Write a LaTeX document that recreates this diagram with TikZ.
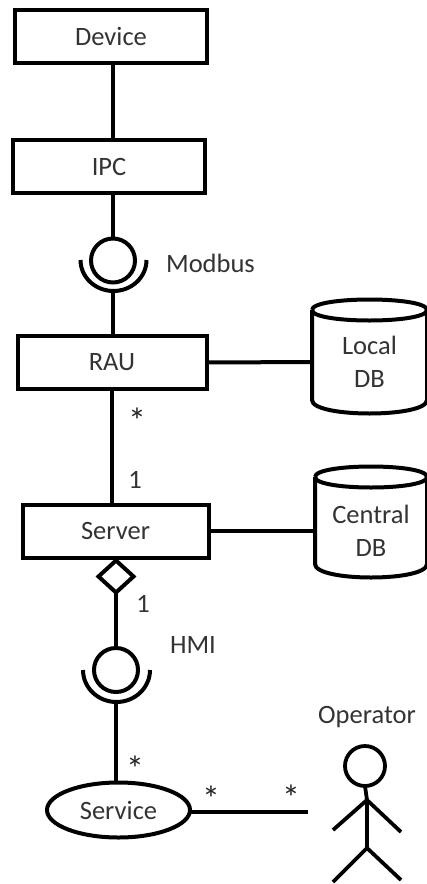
\documentclass[tikz,border=0pt]{standalone}
\usepackage{fontspec}
\setmainfont{Carlito}
\usetikzlibrary{shapes.geometric}
\tikzset{
  every node/.style={outer sep=0pt},
  lw/.style={line width=4pt},
  boxnode/.style={draw,lw,rectangle,inner sep=0pt,minimum height=53pt,text=black!80,font=\fontsize{26.5}{26.5}\selectfont},
  lbl/.style={inner sep=0pt,text=black!80,font=\fontsize{26.5}{33}\selectfont,align=center},
  multi/.style={inner sep=0pt,text=black!85,font=\fontsize{36}{36}\selectfont},
  conn/.style={draw,lw},
  ball/.style={draw,lw,circle,inner sep=0pt,minimum size=44pt},
  cyl/.style={lw,line join=round},
  actor/.style={draw,line width=3.8pt}
}
\begin{document}
\begin{tikzpicture}[x=1pt,y=-1pt]
\useasboundingbox (0,0) rectangle (427,884);
% boxes
\node[boxnode,minimum width=192pt] (device) at (111,36) {Device};
\node[boxnode,minimum width=192pt] (ipc) at (109,166.5) {IPC};
\node[boxnode,minimum width=189pt] (rau) at (112,362.5) {RAU};
\node[boxnode,minimum width=186pt] (server) at (115.5,531) {Server};
% interfaces
\node[ball] (modbus) at (113,260.5) {};
\coordinate (modbusS) at (113,291);
\draw[lw] (80.5,260) arc[start angle=180,end angle=0,x radius=33,y radius=31];
\node[ball] (hmi) at (116,670) {};
\coordinate (hmiS) at (116,702);
\draw[lw] (83,670) arc[start angle=180,end angle=0,x radius=33.5,y radius=32];
% diamond
\node[draw,lw,diamond,aspect=1.1,inner sep=0pt,minimum width=35pt,minimum height=32pt] (agg) at (116,576.5) {};
% service
\node[draw,lw,ellipse,inner sep=0pt,minimum width=143pt,minimum height=55pt,text=black!80,font=\fontsize{26.5}{26.5}\selectfont] (service) at (118.5,810) {Service};
% cylinders
\draw[cyl] (312,310) .. controls (312,296) and (427,296) .. (427,310) .. controls (427,324) and (312,324) .. (312,310);
\draw[cyl] (312,310) -- (312,400) .. controls (312,418) and (427,418) .. (427,400) -- (427,310);
\node[lbl,minimum width=115pt,minimum height=103pt] (local) at (369.5,362) {Local\\DB};
\draw[cyl] (315,477) .. controls (315,463) and (427,463) .. (427,477) .. controls (427,491) and (315,491) .. (315,477);
\draw[cyl] (315,477) -- (315,564) .. controls (315,582) and (427,582) .. (427,564) -- (427,477);
\node[lbl,minimum width=112pt,minimum height=72pt] (central) at (371,531) {Central\\DB};
% actor
\node[actor,circle,inner sep=0pt,minimum size=40pt] (head) at (365,766) {};
\coordinate (shoulder) at (367,800);
\coordinate (hip) at (367,848);
\coordinate (handL) at (333,830);
\coordinate (handR) at (401,832);
\coordinate (footL) at (333,882);
\coordinate (footR) at (401,880);
\draw[actor] (head.south) -- (shoulder) -- (hip);
\draw[actor] (handL) -- (shoulder) -- (handR);
\draw[actor] (footL) -- (hip) -- (footR);
% connectors
\coordinate (svcEnd) at (308,812);
\draw[conn] (device.south -| modbus.north) -- (ipc.north -| modbus.north);
\draw[conn] (ipc.south -| modbus.north) -- (modbus.north);
\draw[conn] (modbusS) -- (modbusS |- rau.north);
\draw[conn] (rau.south) -- (rau.south |- server.north);
\draw[conn] (rau.east) -- (local.west);
\draw[conn] (server.east) -- (server.east -| central.west);
\draw[conn] (agg.south) -- (hmi.north);
\draw[conn] (hmiS) -- (hmiS |- service.north);
\draw[conn] (service.east |- svcEnd) -- (svcEnd);
% labels
\node[lbl] (lmodbus) at (210.5,263) {Modbus};
\node[lbl] (lhmi) at (193,645) {HMI};
\node[lbl] (loperator) at (367,717) {Operator};
\node[multi] (s1) at (137,421) {*};
\node[lbl] (m1) at (135,480) {1};
\node[lbl] (m2) at (143,604) {1};
\node[multi] (s2) at (135,769) {*};
\node[multi] (s3) at (211,799) {*};
\node[multi] (s4) at (291,798) {*};
\end{tikzpicture}
\end{document}
